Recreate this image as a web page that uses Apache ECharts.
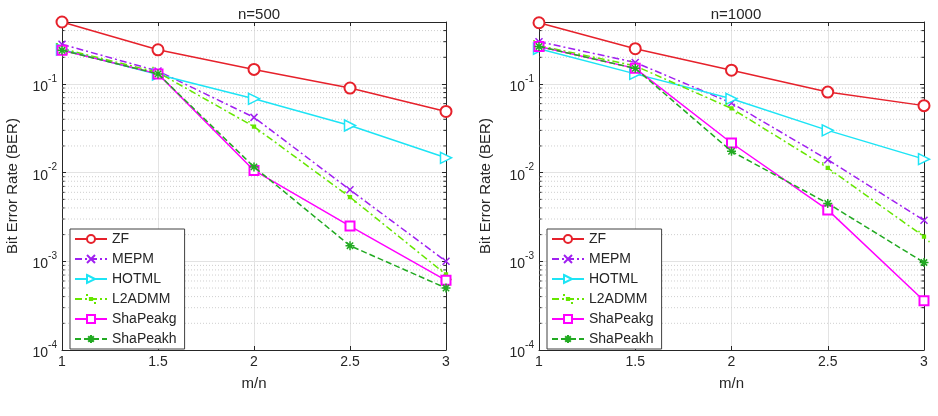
<!DOCTYPE html>
<html>
<head>
<meta charset="utf-8">
<script src="https://cdn.jsdelivr.net/npm/echarts@6/dist/echarts.min.js"></script>
<style>
  html, body { margin: 0; padding: 0; background: #fff; }
  #main { width: 938px; height: 416px; }
</style>
</head>
<body>
<div id="main"></div>
<script>
// m/n values on the x axis
var ratios = [1, 1.5, 2, 2.5, 3];
var names = ['ZF', 'MEPM', 'HOTML', 'L2ADMM', 'ShaPeakg', 'ShaPeakh'];

// BER (n=500)
var zf500      = [0.5, 0.243, 0.146, 0.090, 0.049];
var mepm500    = [0.28, 0.14, 0.042, 0.0064, 0.0010];
var hotml500   = [0.245, 0.128, 0.068, 0.034, 0.0147];
var l2admm500  = [0.25, 0.135, 0.033, 0.0053, 0.00071];
var peakg500   = [0.24, 0.13, 0.0106, 0.0025, 0.00061];
var peakh500   = [0.24, 0.13, 0.0116, 0.0015, 0.00050];

// BER (n=1000)
var zf1000     = [0.49, 0.25, 0.143, 0.081, 0.057];
var mepm1000   = [0.30, 0.175, 0.061, 0.014, 0.0029];
var hotml1000  = [0.25, 0.13, 0.068, 0.030, 0.0142];
var l2admm1000 = [0.27, 0.16, 0.053, 0.0113, 0.0019];
var peakg1000  = [0.265, 0.15, 0.0216, 0.0038, 0.00036];
var peakh1000  = [0.265, 0.15, 0.0174, 0.0045, 0.00097];

var yMin = 1e-4, yMax = 0.5;
var xTicks = ['1', '1.5', '2', '2.5', '3'];

var FONT = '"Liberation Sans", Arial, sans-serif';
var INK = '#262626';

// minor grid values 2..9 x 10^k
var minorVals = [];
for (var k = -4; k <= -1; k++) {
  for (var m = 2; m <= 9; m++) {
    var v = m * Math.pow(10, k);
    if (v < yMax) minorVals.push(v);
  }
}

// small dot inside a bigger (invisible) box so the legend icon stays small
var DOT = 'path://M0,0h0.01v0.01h-0.01Z M3.6,3.6h2.8v2.8h-2.8Z M9.99,9.99h0.01v0.01h-0.01Z';

var styles = [
  { color: '#e6212b', type: 'solid', symbol: 'emptyCircle', size: 11, fill: null },
  { color: '#a020f0', type: [7, 3, 2, 3], symbol: 'path://M0,0L10,10M10,0L0,10', size: 7, fill: 'none' },
  { color: '#1de4f5', type: 'solid', symbol: 'path://M0,0L10,6L0,12Z', size: 11, fill: '#fff' },
  { color: '#66e600', type: [7, 3, 2, 3], symbol: DOT, size: 10, fill: '#66e600' },
  { color: '#ff00ff', type: 'solid', symbol: 'emptyRect', size: 9, fill: null },
  { color: '#22aa22', type: [6, 3], symbol: 'path://M5,0L5,10M0,5L10,5M1.5,1.5L8.5,8.5M8.5,1.5L1.5,8.5', size: 9, fill: 'none' }
];

function pairs(vals) {
  return ratios.map(function (x, i) { return [x, vals[i]]; });
}

function makeSeries(vals, idx, axisIdx) {
  var s = styles[idx];
  return {
    name: names[idx],
    type: 'line',
    xAxisIndex: axisIdx,
    yAxisIndex: axisIdx,
    data: pairs(vals),
    symbol: s.symbol,
    symbolSize: s.size,
    showAllSymbol: true,
    z: 3 + idx,
    lineStyle: { color: s.color, width: 1.5, type: s.type },
    itemStyle: s.fill === null
      ? { color: s.color, borderWidth: 1.5 }
      : { color: s.fill, borderColor: s.color, borderWidth: 1.5 },
    emphasis: { disabled: true },
    animation: false
  };
}

// helper series: horizontal segments at the minor values (grid lines / minor ticks)
function hSegments(axisIdx, x0, x1, color, type, z) {
  var d = [];
  minorVals.forEach(function (v) {
    d.push([x0, v], [x1, v], [x1, '-']);
  });
  return {
    name: '_minor', type: 'line', xAxisIndex: axisIdx, yAxisIndex: axisIdx,
    data: d, symbol: 'none', silent: true, connectNulls: false, z: z,
    lineStyle: { color: color, width: 1, type: type },
    emphasis: { disabled: true }, animation: false, tooltip: { show: false }
  };
}

function powLabel(v) {
  var e = Math.log10(v);
  var r = Math.round(e);
  if (Math.abs(e - r) > 1e-6) return '';
  return '{b|10}{s|' + r + '}';
}

var grids = [
  { left: 62, top: 22, width: 384, height: 328 },
  { left: 539, top: 22, width: 385, height: 328 }
];

var xAxes = [], yAxes = [];
grids.forEach(function (g, gi) {
  xAxes.push({
    type: 'value', gridIndex: gi, min: 1, max: 3, interval: 0.5,
    name: 'm/n', nameLocation: 'middle', nameGap: 26,
    nameTextStyle: { fontFamily: FONT, fontSize: 15, color: INK },
    axisLine: { lineStyle: { color: INK, width: 1 } },
    axisTick: { inside: true, length: 4, lineStyle: { color: INK } },
    axisLabel: {
      fontFamily: FONT, fontSize: 14, color: INK, margin: 5,
      formatter: function (v) { return xTicks[Math.round((v - 1) * 2)]; }
    },
    splitLine: { show: true, lineStyle: { color: '#e3e3e3', width: 1 } }
  });
  xAxes.push({
    type: 'value', gridIndex: gi, min: 1, max: 3, interval: 0.5, position: 'top',
    axisLine: { lineStyle: { color: INK, width: 1 } },
    axisTick: { inside: true, length: 4, lineStyle: { color: INK } },
    axisLabel: { show: false },
    splitLine: { show: false }
  });
  yAxes.push({
    type: 'log', logBase: 10, gridIndex: gi, min: yMin, max: yMax,
    name: 'Bit Error Rate (BER)', nameLocation: 'middle', nameGap: gi === 0 ? 42 : 46,
    nameTextStyle: { fontFamily: FONT, fontSize: 15, color: INK },
    axisLine: { lineStyle: { color: INK, width: 1 } },
    axisTick: { inside: true, length: 4, lineStyle: { color: INK } },
    axisLabel: {
      fontFamily: FONT, color: INK, margin: 5,
      formatter: powLabel,
      rich: {
        b: { fontFamily: FONT, fontSize: 14, color: INK, padding: [6, 0, 0, 0] },
        s: { fontFamily: FONT, fontSize: 10, color: INK, verticalAlign: 'top', padding: [0, 0, 6, 0] }
      }
    },
    splitLine: { show: true, lineStyle: { color: '#e3e3e3', width: 1 } }
  });
  yAxes.push({
    type: 'log', logBase: 10, gridIndex: gi, min: yMin, max: yMax, position: 'right',
    axisLine: { lineStyle: { color: INK, width: 1 } },
    axisTick: { inside: true, length: 4, lineStyle: { color: INK } },
    axisLabel: { show: false },
    splitLine: { show: false }
  });
});

var panels = [
  [zf500, mepm500, hotml500, l2admm500, peakg500, peakh500],
  [zf1000, mepm1000, hotml1000, l2admm1000, peakg1000, peakh1000]
];

var series = [];
panels.forEach(function (p, pi) {
  var ax = pi * 2;
  series.push(hSegments(ax, 1, 3, '#cfcfcf', [1, 2], 1));
  series.push(hSegments(ax, 1, 1.0135, INK, 'solid', 2));
  series.push(hSegments(ax, 2.9865, 3, INK, 'solid', 2));
  p.forEach(function (vals, i) {
    series.push(makeSeries(vals, i, ax));
  });
});

function legendAt(left) {
  return {
    orient: 'vertical', left: left, top: 229,
    data: names,
    itemWidth: 32, itemHeight: 10, itemGap: 6,
    padding: [3, 8, 3, 4],
    backgroundColor: '#fff',
    borderColor: '#404040', borderWidth: 1,
    selectedMode: false,
    textStyle: { fontFamily: FONT, fontSize: 14, lineHeight: 13, color: INK }
  };
}

var chart = echarts.init(document.getElementById('main'), null, { renderer: 'canvas' });
chart.setOption({
  backgroundColor: '#fff',
  animation: false,
  title: [
    { text: 'n=500', left: 254, top: 2, textAlign: 'center',
      textStyle: { fontFamily: FONT, fontSize: 15, fontWeight: 'normal', color: INK } },
    { text: 'n=1000', left: 731, top: 2, textAlign: 'center',
      textStyle: { fontFamily: FONT, fontSize: 15, fontWeight: 'normal', color: INK } }
  ],
  legend: [legendAt(70), legendAt(547)],
  grid: grids,
  xAxis: xAxes,
  yAxis: yAxes,
  series: series
});
</script>
</body>
</html>
